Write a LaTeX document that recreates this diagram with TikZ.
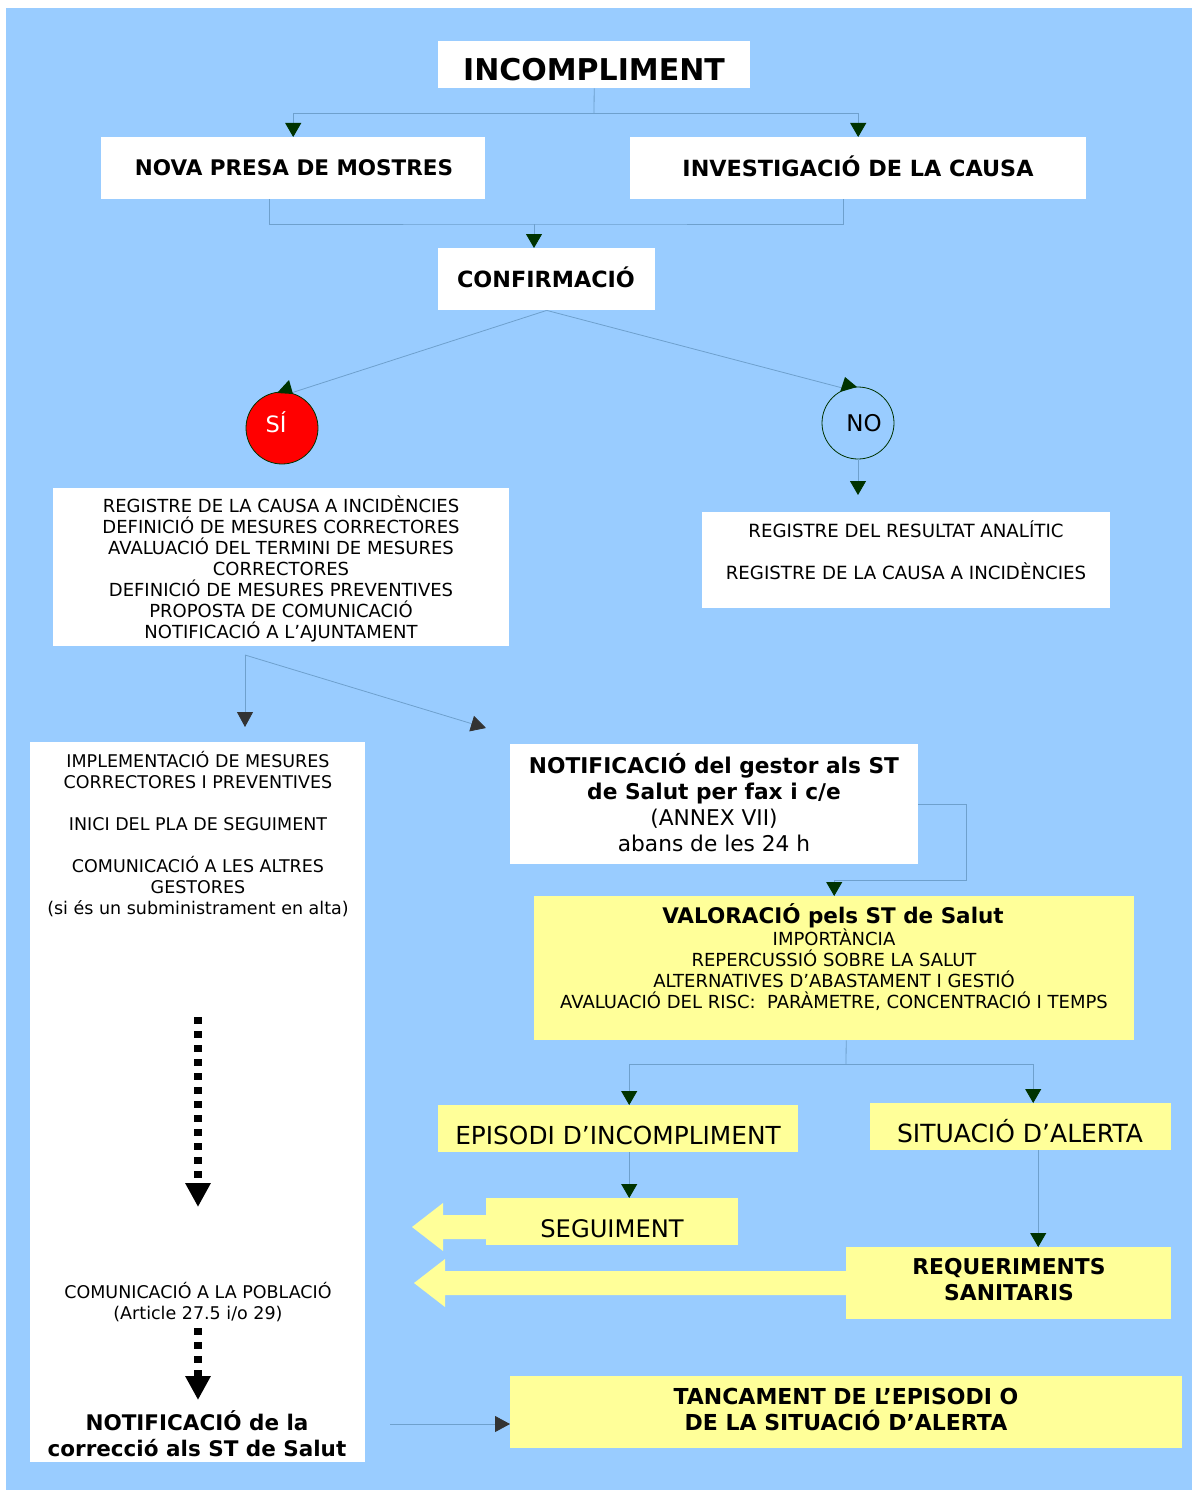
\documentclass[tikz,border=0pt]{standalone}
\usepackage{fontspec}
\setmainfont{DejaVu Sans}
\usetikzlibrary{arrows.meta,calc}
\definecolor{bgblue}{HTML}{99CCFF}
\definecolor{pyellow}{HTML}{FFFF99}
\definecolor{dkg}{HTML}{003300}
\definecolor{lnc}{RGB}{110,160,205}
\definecolor{dkgray}{HTML}{333333}
\newcommand{\fsz}[2]{\fontsize{#1pt}{#2pt}\selectfont}
\begin{document}
\begin{tikzpicture}[x=1pt,y=-1pt,
  wbox/.style={draw=none,fill=white,inner sep=0pt,anchor=north west},
  ybox/.style={draw=none,fill=pyellow,inner sep=0pt,anchor=north west},
  txt/.style={inner sep=0pt,align=center,text=black},
  btxt/.style={txt,font=\bfseries},
  small/.style={txt,font=\fsz{18}{21}},
  line/.style={draw=lnc,line width=0.8pt},
  garrow/.style={line,-{Triangle[width=16pt,length=14pt,color=dkg,fill=dkg]}},
  karrow/.style={line,-{Triangle[width=16pt,length=15pt,color=dkgray,fill=dkgray]}},
  dotarr/.style={draw=black,line width=8pt,dash pattern=on 7pt off 7pt,-{Triangle[width=24pt,length=24pt]}},
  yarrow/.style={fill=pyellow,draw=none}
]
\useasboundingbox (0,0) rectangle (1194,1490);
\fill[white] (0,0) rectangle (1194,1490);
\fill[bgblue] (6,8) rectangle (1192,1490);

% boxes
\node[wbox,minimum width=312pt,minimum height=47pt] (inc) at (438,41) {};
\node[wbox,minimum width=384pt,minimum height=62pt] (nova) at (101,137) {};
\node[wbox,minimum width=456pt,minimum height=62pt] (inv) at (630,137) {};
\node[wbox,minimum width=217pt,minimum height=62pt] (conf) at (438,248) {};
\node[circle,fill=red,draw=dkg,line width=0.8pt,minimum size=72pt,inner sep=0pt] (si) at (282,428) {};
\node[circle,draw=dkg,line width=0.8pt,minimum size=72pt,inner sep=0pt] (no) at (858,423) {};
\node[wbox,minimum width=456pt,minimum height=158pt] (reg1) at (53,488) {};
\node[wbox,minimum width=408pt,minimum height=96pt] (reg2) at (702,512) {};
\node[wbox,minimum width=335pt,minimum height=720pt] (impl) at (30,742) {};
\node[wbox,minimum width=408pt,minimum height=120pt] (notif) at (510,744) {};
\node[ybox,minimum width=600pt,minimum height=144pt] (val) at (534,896) {};
\node[ybox,minimum width=360pt,minimum height=47pt] (epi) at (438,1105) {};
\node[ybox,minimum width=301pt,minimum height=47pt] (sit) at (870,1103) {};
\node[ybox,minimum width=252pt,minimum height=47pt] (seg) at (486,1198) {};
\node[ybox,minimum width=325pt,minimum height=72pt] (req) at (846,1247) {};
\node[ybox,minimum width=672pt,minimum height=72pt] (tan) at (510,1376) {};

% yellow left arrows
\path[yarrow] (486,1215) -- (443,1215) -- (443,1203) -- (412,1227) -- (443,1251) -- (443,1239) -- (486,1239) -- cycle;
\path[yarrow] (847,1271) -- (445,1271) -- (445,1259) -- (414,1283) -- (445,1307) -- (445,1295) -- (847,1295) -- cycle;

% texts
\node[btxt,font=\bfseries\fsz{30}{34}] (inc-t) at (594,70) {INCOMPLIMENT};
\node[btxt,font=\bfseries\fsz{21.5}{26}] (nova-t) at (294,168) {NOVA PRESA DE MOSTRES};
\node[btxt,font=\bfseries\fsz{22.3}{26}] (inv-t) at (858,166.5) {INVESTIGACIÓ DE LA CAUSA};
\node[btxt,font=\bfseries\fsz{22.3}{26}] (conf-t) at (546,277.5) {CONFIRMACIÓ};
\node[txt,text=white,font=\fsz{22.5}{26}] (si-t) at (276,422) {SÍ};
\node[txt,font=\fsz{23}{26}] (no-t) at (864,423) {NO};
\node[small] (reg1-t) at (281,569) {REGISTRE DE LA CAUSA A INCIDÈNCIES\\DEFINICIÓ DE MESURES CORRECTORES\\AVALUACIÓ DEL TERMINI DE MESURES\\CORRECTORES\\DEFINICIÓ DE MESURES PREVENTIVES\\PROPOSTA DE COMUNICACIÓ\\NOTIFICACIÓ A L’AJUNTAMENT};
\node[small,font=\fsz{18.2}{42}] (reg2-t) at (906,550) {REGISTRE DEL RESULTAT ANALÍTIC\\REGISTRE DE LA CAUSA A INCIDÈNCIES};
\node[small,font=\fsz{17.5}{21.1}] (impl-t) at (198,834) {IMPLEMENTACIÓ DE MESURES\\CORRECTORES I PREVENTIVES\\[21.1pt]INICI DEL PLA DE SEGUIMENT\\[21.1pt]COMUNICACIÓ A LES ALTRES\\GESTORES\\(si és un subministrament en alta)};
\node[small,font=\fsz{17.5}{21}] (pob-t) at (198,1302) {COMUNICACIÓ A LA POBLACIÓ\\(Article 27.5 i/o 29)};
\node[btxt,font=\bfseries\fsz{21.5}{26}] (corr-t) at (197,1434) {NOTIFICACIÓ de la\\correcció als ST de Salut};
\node[txt,font=\fsz{21.7}{26}] (notif-t) at (714,803) {\textbf{NOTIFICACIÓ del gestor als ST}\\\textbf{de Salut per fax i c/e}\\(ANNEX VII)\\abans de les 24 h};
\node[btxt,font=\bfseries\fsz{21.5}{26}] (val-t) at (833,916) {VALORACIÓ pels ST de Salut};
\node[small] (val-l) at (834,970) {IMPORTÀNCIA\\REPERCUSSIÓ SOBRE LA SALUT\\ALTERNATIVES D’ABASTAMENT I GESTIÓ\\AVALUACIÓ DEL RISC:~ PARÀMETRE, CONCENTRACIÓ I TEMPS};
\node[txt,font=\fsz{24.8}{28}] (epi-t) at (618,1135) {EPISODI D’INCOMPLIMENT};
\node[txt,font=\fsz{25}{28}] (sit-t) at (1020,1131.5) {SITUACIÓ D’ALERTA};
\node[txt,font=\fsz{24.2}{28}] (seg-t) at (612,1229) {SEGUIMENT};
\node[btxt,font=\bfseries\fsz{21.8}{26}] (req-t) at (1009,1280) {REQUERIMENTS\\SANITARIS};
\node[btxt,font=\bfseries\fsz{22}{26}] (tan-t) at (846,1409) {TANCAMENT DE L’EPISODI O\\DE LA SITUACIÓ D’ALERTA};

% connectors
\coordinate (j1) at (594,113);
\draw[line] (inc.south) -- (j1);
\draw[garrow] (j1) -| (nova.north);
\draw[garrow] (j1) -| (inv.north);
\coordinate (j2) at (534,224);
\draw[line] ([xshift=-24pt]nova.south) |- (j2) -| ([xshift=-15pt]inv.south);
\draw[garrow] (j2) -- (j2 |- conf.north);
\draw[line] (conf.south) -- (si.75);
\draw[line] (conf.south) -- (no.110);
\fill[dkg] (277,393) -- (293,394) -- (289,380) -- cycle;
\fill[dkg] (840,392) -- (857,387) -- (845,377) -- cycle;
\coordinate (noend) at (858,495);
\draw[garrow] (no.south) -- (noend);
\coordinate (r1) at (245,655);
\coordinate (r1a) at (245,727);
\coordinate (r1b) at (486,728);
\draw[karrow] (r1) -- (r1a);
\draw[karrow] (r1) -- (r1b);
\coordinate (c1) at (966,880);
\draw[garrow] (notif.east) -| (c1) -| (val.north);
\coordinate (j3) at (846,1064);
\draw[line] ([xshift=12pt]val.south) -- (j3);
\draw[garrow] (j3) -| ([xshift=11pt]epi.north);
\draw[garrow] (j3) -| ([xshift=12.5pt]sit.north);
\draw[garrow] ([xshift=11pt]epi.south) -- ([xshift=11pt]epi.south |- seg.north);
\draw[garrow] ([xshift=17.5pt]sit.south) -- ([xshift=17.5pt]sit.south |- req.north);
\coordinate (t1) at (390,1424);
\draw[karrow] (t1) -- (t1 -| tan.west);
% dotted arrows
\coordinate (d1a) at (198,1017);
\coordinate (d1b) at (198,1207);
\coordinate (d2a) at (198,1328);
\coordinate (d2b) at (198,1400);
\draw[dotarr] (d1a) -- (d1b);
\draw[dotarr] (d2a) -- (d2b);
\end{tikzpicture}
\end{document}
